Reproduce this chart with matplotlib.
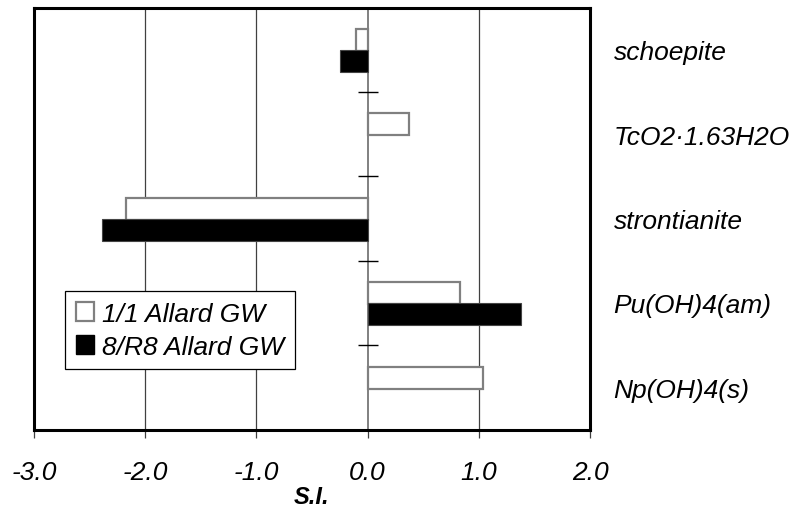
import matplotlib
matplotlib.use("Agg")
import matplotlib.pyplot as plt
from matplotlib.patches import Patch
import numpy as np

plt.rcParams['font.family'] = ['Liberation Sans', 'DejaVu Sans']

minerals = ["schoepite", "TcO2\u00b71.63H2O", "strontianite", "Pu(OH)4(am)", "Np(OH)4(s)"]
si_allard_1_1 = [-0.10, 0.37, -2.17, 0.83, 1.04]
si_allard_8_r8 = [-0.25, np.nan, -2.39, 1.38, np.nan]
series_names = ["1/1 Allard GW", "8/R8 Allard GW"]
x_ticks = [-3.0, -2.0, -1.0, 0.0, 1.0, 2.0]
x_tick_labels = ["-3.0", "-2.0", "-1.0", "0.0", "1.0", "2.0"]

fig = plt.figure(figsize=(7.96, 5.10), dpi=100)
left, right, top, bottom = 34, 590, 8.5, 430.5
ax = fig.add_axes([left / 796, 1 - bottom / 510, (right - left) / 796, (bottom - top) / 510])

y = np.arange(len(minerals))
h = 0.26
gray = "#808080"

# vertical grid lines and the zero reference line
for xv in x_ticks[1:-1]:
    if xv == 0:
        ax.axvline(xv, color=gray, lw=1.4, zorder=1)
    else:
        ax.axvline(xv, color="#404040", lw=0.9, zorder=1)

ax.barh(y - 0.115, si_allard_1_1, height=h, color="white", edgecolor=gray,
        linewidth=1.6, zorder=3)
v2 = np.array(si_allard_8_r8, dtype=float)
mask = ~np.isnan(v2)
ax.barh((y + 0.135)[mask], v2[mask], height=h, color="black", edgecolor="#444444",
        linewidth=0.8, zorder=3)

# category separators drawn as short ticks on the zero line
bounds = y[:-1] + 0.5
ax.plot(np.zeros_like(bounds), bounds, linestyle="none", marker="_",
        markersize=14, markeredgewidth=1.0, color="black", zorder=4)

ax.set_xlim(x_ticks[0], x_ticks[-1])
ax.set_ylim(len(minerals) - 0.5, -0.5)
ax.set_xticks(x_ticks)
ax.set_xticklabels(x_tick_labels, fontsize=19, fontstyle="italic")
ax.tick_params(axis="x", direction="out", length=6, width=0.9, color="#404040", pad=16)

ax.set_yticks(y)
ax.set_yticklabels(minerals, fontsize=19, fontstyle="italic")
ax.yaxis.tick_right()
ax.tick_params(axis="y", length=0, pad=17)
for lbl in ax.get_yticklabels():
    lbl.set_horizontalalignment("left")

for sp in ax.spines.values():
    sp.set_linewidth(2.2)
    sp.set_color("black")

ax.set_xlabel("S.I.", fontsize=17, fontweight="bold", fontstyle="italic", labelpad=1)

handles = [
    Patch(facecolor="white", edgecolor=gray, linewidth=1.6),
    Patch(facecolor="black", edgecolor="black"),
]
leg = ax.legend(handles, series_names, loc="upper left",
                bbox_to_anchor=(65 / 796, 1 - 292 / 510),
                bbox_transform=fig.transFigure, borderaxespad=0,
                prop={"size": 19, "style": "italic"},
                frameon=True, fancybox=False, framealpha=1,
                handlelength=0.7, handleheight=0.7, handletextpad=0.3,
                labelspacing=0.35, borderpad=0.4)
leg.get_frame().set_edgecolor("black")
leg.get_frame().set_linewidth(0.9)
leg.set_zorder(5)

fig.savefig("out.png", dpi=100)
